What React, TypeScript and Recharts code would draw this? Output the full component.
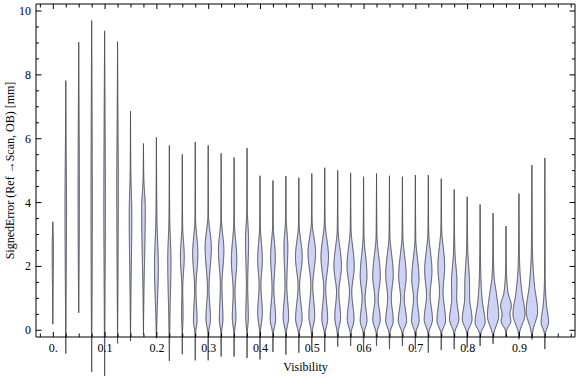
import React from 'react';
import { ComposedChart, Bar, XAxis, YAxis } from 'recharts';

// violin positions (visibility) and their extents
const visibility = [
  0, 0.025, 0.05, 0.075, 0.1, 0.125, 0.15, 0.175, 0.2, 0.225,
  0.25, 0.275, 0.3, 0.325, 0.35, 0.375, 0.4, 0.425, 0.45, 0.475,
  0.5, 0.525, 0.55, 0.575, 0.6, 0.625, 0.65, 0.675, 0.7, 0.725,
  0.75, 0.775, 0.8, 0.825, 0.85, 0.875, 0.9, 0.925, 0.95,
];

const errorMax = [
  3.4, 7.82, 9.02, 9.7, 9.38, 9.04, 6.86, 5.85, 6.04, 5.79,
  5.51, 5.9, 5.79, 5.54, 5.41, 5.71, 4.84, 4.69, 4.83, 4.78,
  4.91, 5.09, 5.01, 4.93, 4.81, 4.91, 4.84, 4.81, 4.86, 4.86,
  4.75, 4.41, 4.18, 3.94, 3.67, 3.26, 4.28, 5.17, 5.4,
];

const errorMin = [
  0.19, -0.73, 0.55, -1.3, -1.43, -0.41, -0.33, -0.13, -0.25, -0.96,
  -0.75, -0.94, -0.94, -0.82, -0.82, -0.87, -0.91, -0.68, -0.76, -0.7,
  -0.65, -0.68, -0.51, -0.49, -0.65, -0.49, -0.59, -0.49, -0.59, -0.7,
  -0.62, -0.59, -0.54, -0.49, -0.42, -0.21, -0.28, -0.28, -0.59,
];

// density profile of each violin: [error value, relative density]
const densityKnots: [number, number][][] = [
  [[1.5, 0.06], [2.5, 0.1]],
  [[2.0, 0.08], [3.8, 0.12], [6.0, 0.05]],
  [[2.0, 0.06], [4.5, 0.1], [7.0, 0.05]],
  [[1.0, 0.06], [4.0, 0.1], [7.5, 0.05]],
  [[1.0, 0.06], [4.0, 0.12], [7.0, 0.06]],
  [[1.5, 0.06], [4.5, 0.12], [7.0, 0.05]],
  [[1.0, 0.06], [3.6, 0.2], [5.0, 0.05]],
  [[1.0, 0.06], [3.8, 0.28], [4.8, 0.05]],
  [[0.5, 0.1], [2.0, 0.3], [3.5, 0.08]],
  [[0.3, 0.08], [2.2, 0.25], [3.5, 0.06]],
  [[0.0, 0.04], [0.5, 0.12], [1.3, 0.06], [2.3, 0.3], [3.3, 0.05]],
  [[-0.1, 0.05], [0.3, 0.28], [1.3, 0.1], [2.4, 0.4], [3.5, 0.05]],
  [[-0.1, 0.05], [0.35, 0.35], [1.3, 0.12], [2.6, 0.48], [3.6, 0.05]],
  [[-0.1, 0.05], [0.35, 0.28], [1.4, 0.12], [2.5, 0.42], [3.5, 0.05]],
  [[-0.1, 0.05], [0.4, 0.28], [1.2, 0.14], [2.2, 0.42], [3.4, 0.05]],
  [[-0.1, 0.04], [0.4, 0.2], [1.4, 0.1], [2.8, 0.24], [3.8, 0.04]],
  [[-0.1, 0.05], [0.55, 0.36], [1.4, 0.14], [2.2, 0.36], [3.3, 0.05]],
  [[-0.1, 0.06], [0.35, 0.42], [1.3, 0.14], [2.3, 0.36], [3.3, 0.05]],
  [[-0.1, 0.06], [0.4, 0.42], [1.4, 0.14], [2.6, 0.3], [3.5, 0.05]],
  [[-0.1, 0.06], [0.35, 0.5], [1.38, 0.12], [2.3, 0.52], [3.3, 0.06]],
  [[-0.1, 0.06], [0.45, 0.45], [1.4, 0.15], [2.43, 0.58], [3.4, 0.06]],
  [[-0.1, 0.06], [0.35, 0.45], [1.3, 0.15], [2.3, 0.58], [3.4, 0.06]],
  [[-0.1, 0.06], [0.4, 0.45], [1.2, 0.18], [2.0, 0.58], [3.2, 0.06]],
  [[-0.1, 0.06], [0.35, 0.52], [1.2, 0.18], [2.0, 0.56], [3.2, 0.06]],
  [[-0.1, 0.06], [0.3, 0.52], [1.0, 0.23], [1.7, 0.52], [3.0, 0.06]],
  [[-0.1, 0.06], [0.34, 0.58], [0.97, 0.26], [1.7, 0.58], [3.0, 0.06]],
  [[-0.1, 0.06], [0.3, 0.58], [1.0, 0.28], [1.75, 0.58], [3.0, 0.06]],
  [[-0.1, 0.06], [0.3, 0.64], [1.0, 0.28], [1.7, 0.58], [3.0, 0.06]],
  [[-0.1, 0.06], [0.3, 0.58], [1.0, 0.28], [1.6, 0.56], [2.9, 0.06]],
  [[-0.1, 0.06], [0.34, 0.64], [1.1, 0.28], [1.85, 0.56], [3.1, 0.06]],
  [[-0.1, 0.06], [0.3, 0.66], [1.2, 0.28], [2.0, 0.52], [3.2, 0.06]],
  [[-0.1, 0.06], [0.35, 0.72], [1.0, 0.38], [1.5, 0.42], [2.4, 0.12], [3.2, 0.04]],
  [[-0.1, 0.06], [0.35, 0.75], [1.0, 0.38], [1.5, 0.36], [2.5, 0.1], [3.2, 0.04]],
  [[-0.1, 0.1], [0.25, 0.77], [0.9, 0.35], [1.8, 0.1], [2.8, 0.04]],
  [[-0.1, 0.12], [0.45, 0.87], [1.1, 0.55], [1.7, 0.15], [2.6, 0.04]],
  [[0.0, 0.1], [0.29, 0.75], [0.5, 0.6], [0.76, 0.82], [1.2, 0.3], [2.0, 0.05]],
  [[-0.05, 0.12], [0.5, 0.92], [1.2, 0.45], [2.0, 0.12], [3.0, 0.04]],
  [[-0.05, 0.12], [0.6, 0.88], [1.4, 0.4], [2.4, 0.1], [3.5, 0.04]],
  [[-0.1, 0.08], [0.25, 0.57], [0.8, 0.25], [1.6, 0.06], [3.0, 0.03]],
];

const xTickLabels = ['0.', '0.1', '0.2', '0.3', '0.4', '0.5', '0.6', '0.7', '0.8', '0.9'];
const yTickLabels = ['0', '2', '4', '6', '8', '10'];

const xTicks = Array.from({ length: 42 }, (_, k) => (k - 1) * 25 / 1000);
const yTicks = Array.from({ length: 21 }, (_, k) => k / 2);

const data = visibility.map((v, i) => ({
  vis: v,
  top: errorMax[i],
  min: errorMin[i],
  knots: densityKnots[i],
}));

const FONT = '"Liberation Serif", "DejaVu Serif", serif';
const HALF_WIDTH = 6.5;

// monotone cubic (d3 style) through the knots, so the outline never overshoots
function monotone(pts: [number, number][]) {
  const n = pts.length;
  const xs = pts.map((p) => p[0]);
  const ys = pts.map((p) => p[1]);
  const d: number[] = [];
  for (let i = 0; i < n - 1; i++) d.push((ys[i + 1] - ys[i]) / (xs[i + 1] - xs[i]));
  const m: number[] = new Array(n).fill(0);
  m[0] = d[0];
  m[n - 1] = d[n - 2];
  for (let i = 1; i < n - 1; i++) {
    const h0 = xs[i] - xs[i - 1];
    const h1 = xs[i + 1] - xs[i];
    const s0 = d[i - 1];
    const s1 = d[i];
    const p = (s0 * h1 + s1 * h0) / (h0 + h1);
    m[i] = (Math.sign(s0) + Math.sign(s1)) * Math.min(Math.abs(s0), Math.abs(s1), 0.5 * Math.abs(p)) || 0;
  }
  return (x: number) => {
    let i = 0;
    while (i < n - 2 && x > xs[i + 1]) i++;
    const h = xs[i + 1] - xs[i];
    const t = Math.min(1, Math.max(0, (x - xs[i]) / h));
    const t2 = t * t;
    const t3 = t2 * t;
    return (
      (2 * t3 - 3 * t2 + 1) * ys[i] +
      (t3 - 2 * t2 + t) * h * m[i] +
      (-2 * t3 + 3 * t2) * ys[i + 1] +
      (t3 - t2) * h * m[i + 1]
    );
  };
}

const Violin = (props: any) => {
  const { x, y, width, height, payload } = props;
  if (!payload || !height) return null;
  const cx = x + width / 2;
  const zeroY = y + height;
  const ppu = height / payload.top;
  const pts: [number, number][] = [[payload.min, 0], ...payload.knots, [payload.top, 0]];
  const f = monotone(pts);
  const span = payload.top - payload.min;
  const n = Math.max(4, Math.ceil((span * ppu) / 0.75));
  const right: string[] = [];
  const left: string[] = [];
  for (let i = 0; i <= n; i++) {
    const v = payload.top - (span * i) / n;
    const py = zeroY - v * ppu;
    const hw = Math.max(0, f(v)) * HALF_WIDTH;
    right.push(`${(cx + hw).toFixed(2)},${py.toFixed(2)}`);
    left.unshift(`${(cx - hw).toFixed(2)},${py.toFixed(2)}`);
  }
  const d = `M${right.join('L')}L${left.join('L')}Z`;
  return <path d={d} fill="#cdd3f6" stroke="#4a4a52" strokeWidth={1} strokeLinejoin="round" />;
};

const Nothing = () => <g />;

const isXMajor = (v: number) => Math.abs(v * 10 - Math.round(v * 10)) < 1e-6 && v >= 0 && v < 0.95;
const isYMajor = (v: number) => Number.isInteger(v) && v % 2 === 0;

const textStyle = { fontFamily: FONT, fontSize: 12 };

const BottomTick = (props: any) => {
  const { x, y, payload } = props;
  const v = payload.value;
  const major = isXMajor(v);
  return (
    <g>
      <line x1={x} x2={x} y1={y} y2={y - (major ? 5 : 3.5)} stroke="#000" />
      {major && (
        <text x={x} y={y + 15} textAnchor="middle" style={textStyle} fill="#000">
          {xTickLabels[Math.round(v * 10)]}
        </text>
      )}
    </g>
  );
};

const TopTick = (props: any) => {
  const { x, y, payload } = props;
  const major = isXMajor(payload.value);
  return <line x1={x} x2={x} y1={y} y2={y + (major ? 5 : 3.5)} stroke="#000" />;
};

const LeftTick = (props: any) => {
  const { x, y, payload } = props;
  const v = payload.value;
  const major = isYMajor(v);
  return (
    <g>
      <line x1={x} x2={x + (major ? 5.5 : 3)} y1={y} y2={y} stroke="#000" />
      {major && (
        <text x={x - 5} y={y + 4} textAnchor="end" style={textStyle} fill="#000">
          {yTickLabels[v / 2]}
        </text>
      )}
    </g>
  );
};

const RightTick = (props: any) => {
  const { x, y, payload } = props;
  const major = isYMajor(payload.value);
  return <line x1={x} x2={x - (major ? 5.5 : 3)} y1={y} y2={y} stroke="#000" />;
};

const YLabel = (props: any) => {
  const vb = props.viewBox || { y: 4, height: 333 };
  const cy = vb.y + vb.height / 2;
  return (
    <text x={14} y={cy} transform={`rotate(-90 14 ${cy})`} textAnchor="middle" style={textStyle} fill="#000">
      SignedError (Ref →Scan, OB) [mm]
    </text>
  );
};

const XLabel = (props: any) => {
  const vb = props.viewBox || { x: 36, width: 539 };
  return (
    <text x={vb.x + vb.width / 2} y={371} textAnchor="middle" style={textStyle} fill="#000">
      Visibility
    </text>
  );
};

const xDomain = [-0.0334, 1.0073];
const yDomain = [-0.21, 10.22];
const xTicksShown = xTicks.filter((t) => t >= xDomain[0] && t <= xDomain[1]);

const App = () => {
  return (
    <div
      style={{ position: 'absolute', left: 0, top: 0, width: 576, height: 377, background: '#fff', fontFamily: FONT }}
    >
      <ComposedChart width={576} height={377} data={data} margin={{ top: 3, right: 0, bottom: 0, left: 6 }}>
        <XAxis
          dataKey="vis"
          type="number"
          domain={xDomain}
          ticks={xTicksShown}
          interval={0}
          height={40}
          tickSize={0}
          tickMargin={0}
          tickLine={false}
          axisLine={{ stroke: '#000' }}
          tick={<BottomTick />}
          label={<XLabel />}
        />
        <XAxis
          xAxisId="top"
          dataKey="vis"
          orientation="top"
          type="number"
          domain={xDomain}
          ticks={xTicksShown}
          interval={0}
          height={1}
          tickSize={0}
          tickMargin={0}
          tickLine={false}
          axisLine={{ stroke: '#000' }}
          tick={<TopTick />}
        />
        <YAxis
          type="number"
          domain={yDomain}
          ticks={yTicks}
          interval={0}
          width={30}
          tickSize={0}
          tickMargin={0}
          tickLine={false}
          axisLine={{ stroke: '#000' }}
          tick={<LeftTick />}
          label={<YLabel />}
        />
        <YAxis
          yAxisId="right"
          orientation="right"
          type="number"
          domain={yDomain}
          ticks={yTicks}
          interval={0}
          width={1}
          tickSize={0}
          tickMargin={0}
          tickLine={false}
          axisLine={{ stroke: '#000' }}
          tick={<RightTick />}
        />
        <Bar
          xAxisId="top"
          yAxisId="right"
          dataKey="top"
          barSize={12}
          shape={<Nothing />}
          isAnimationActive={false}
        />
        <Bar dataKey="top" barSize={12} shape={<Violin />} isAnimationActive={false} />
      </ComposedChart>
    </div>
  );
};

export default App;
